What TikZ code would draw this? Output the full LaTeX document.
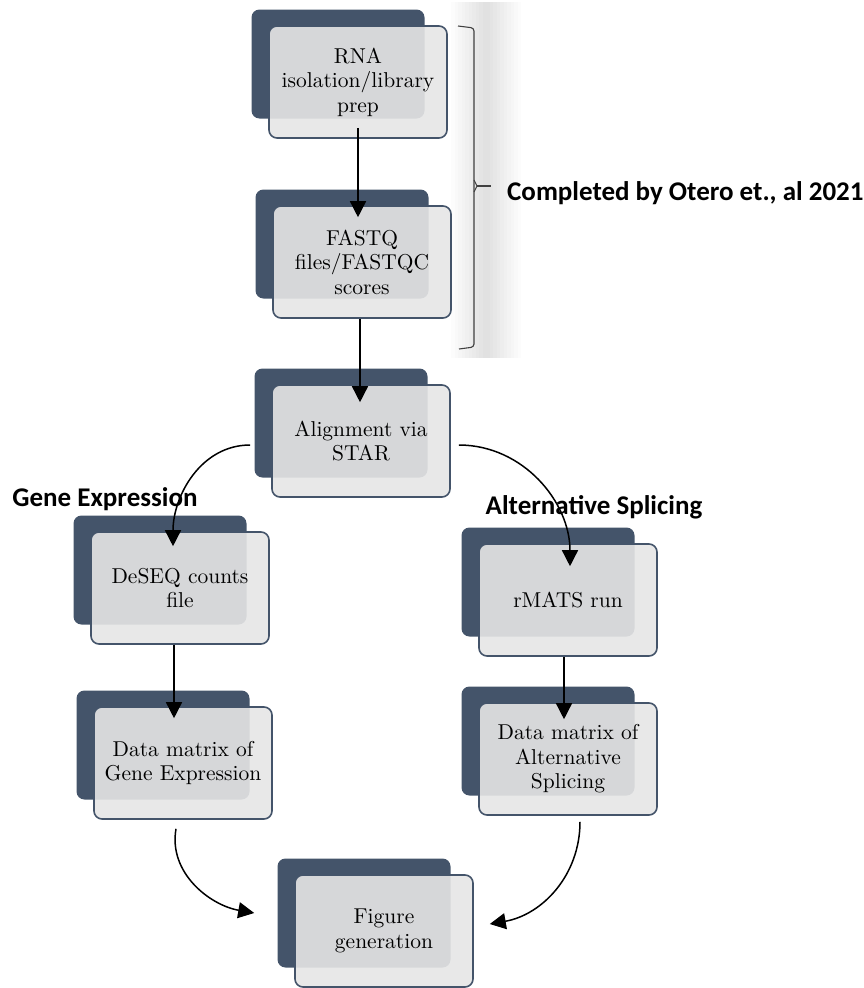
\documentclass[tikz,border=0pt]{standalone}
\usepackage{fontspec}
\newfontfamily\labelfont{Carlito}
\newfontfamily\boxfont{lmroman10-regular}[Extension=.otf]
\usetikzlibrary{arrows.meta}
\definecolor{slate}{RGB}{68,84,106}
\definecolor{paper}{RGB}{230,230,230}
\begin{document}
\begin{tikzpicture}[x=1pt,y=1pt,
  back/.style={fill=slate, rounded corners=8pt, minimum width=173pt, minimum height=109pt, inner sep=0pt},
  front/.style={draw=slate, line width=1.6pt, fill=paper, fill opacity=0.9, text opacity=1, rounded corners=8pt,
    minimum width=178pt, minimum height=112pt, inner sep=0pt, align=center, text=black,
    font=\boxfont\fontsize{21.5}{24.5}\selectfont},
  arr/.style={-{Triangle[width=16pt,length=16pt]}, line width=1.5pt},
  lbl/.style={inner sep=0pt, font=\labelfont\bfseries\fontsize{27}{30}\selectfont}]
\useasboundingbox (0,0) rectangle (864,-988);

% bracket with its soft shadow
\foreach \w in {7,14,...,70}
  \draw[line width=\w pt, black, opacity=0.012] (486,-2) -- (486,-358);
\draw[line width=1.1pt, black!75, rounded corners=3pt] (458,-26) -- (474,-28) -- (474,-347) -- (459,-349);
\draw[line width=1.1pt, black!75] (474,-180) -- (477,-186) -- (474,-192);
\draw[line width=1.1pt, black!75] (477,-186) -- (491,-186);
\node[lbl, anchor=west] (otero) at (507,-193) {Completed by Otero et., al 2021};

\node[back] (rnaback) at (338,-64) {};
\node[front] (rna) at (358,-82) {RNA\\isolation/library\\prep};
\node[back] (fastqback) at (342,-244) {};
\node[front] (fastq) at (362,-262) {FASTQ\\files/FASTQC\\scores};
\node[back] (alignback) at (341,-423) {};
\node[front] (align) at (361,-441) {Alignment via\\STAR};

\node[lbl] (gene) at (105,-499) {Gene Expression};
\node[lbl] (alt) at (594,-507) {Alternative Splicing};

\node[back] (deseqback) at (160,-570) {};
\node[front] (deseq) at (180,-588) {DeSEQ counts\\file};
\node[back] (rmatsback) at (548,-582) {};
\node[front] (rmats) at (568,-600) {rMATS run};
\node[back] (dmgeback) at (163,-745) {};
\node[front] (dmge) at (183,-763) {Data matrix of\\Gene Expression};
\node[back] (dmasback) at (548,-741) {};
\node[front] (dmas) at (568,-759) {Data matrix of\\Alternative\\Splicing};
\node[back] (figback) at (364,-913) {};
\node[front] (fig) at (384,-931) {Figure\\generation};

\draw[arr] ([yshift=11pt]rna.south) -- ([yshift=-12pt]rna.south |- fastq.north);
\draw[arr] ([xshift=-2pt]fastq.south) -- ([xshift=-2pt,yshift=-18pt]fastq.south |- align.north);
\draw[arr] ([xshift=-21pt,yshift=-4pt]align.west) to[out=180,in=90] ([xshift=-7pt,yshift=-15pt]deseq.north);
\draw[arr] ([xshift=8pt,yshift=-4pt]align.east) to[out=0,in=90] ([xshift=2pt,yshift=-23pt]rmats.north);
\draw[arr] ([xshift=-6pt]deseq.south) -- ([xshift=-6pt,yshift=-12pt]deseq.south |- dmge.north);
\draw[arr] ([xshift=-4pt]rmats.south) -- ([xshift=-4pt,yshift=-17pt]rmats.south |- dmas.north);
\draw[arr] ([xshift=-7pt,yshift=-9pt]dmge.south) to[out=-100,in=170] ([xshift=-40pt,yshift=18pt]fig.west);
\draw[arr] ([xshift=12pt,yshift=-6pt]dmas.south) to[out=-90,in=10] ([xshift=16pt,yshift=7pt]fig.east);
\end{tikzpicture}
\end{document}
